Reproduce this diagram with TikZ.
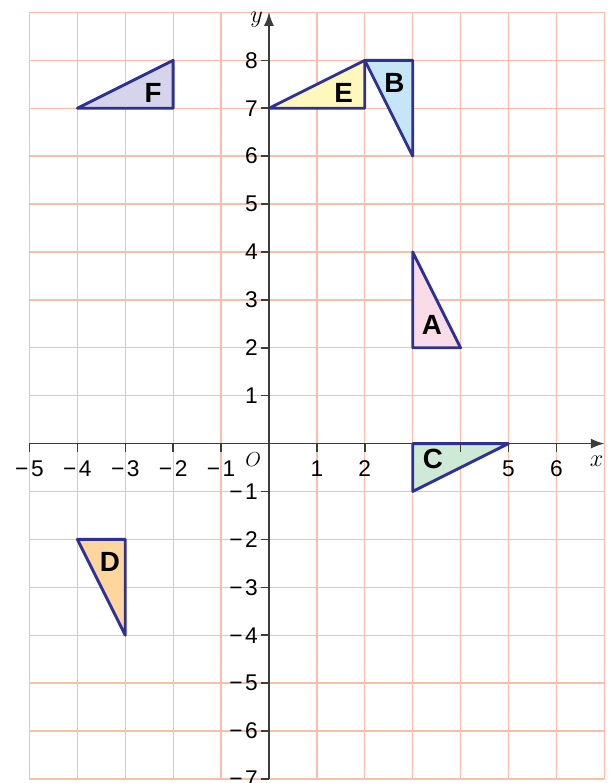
\documentclass[tikz,border=0pt]{standalone}
\usepackage{fontspec}
\setsansfont{Liberation Sans}
\usetikzlibrary{arrows.meta}
\definecolor{gridpink}{RGB}{249,189,168}
\definecolor{triblue}{RGB}{46,49,146}
\definecolor{axgray}{RGB}{60,60,60}
\definecolor{fillF}{RGB}{214,212,234}
\definecolor{fillE}{RGB}{255,248,188}
\definecolor{fillB}{RGB}{196,230,247}
\definecolor{fillA}{RGB}{250,220,232}
\definecolor{fillC}{RGB}{206,233,214}
\definecolor{fillD}{RGB}{253,214,158}
\newcommand{\mn}{−\kern1.5pt}

\begin{document}
\begin{tikzpicture}[x=1cm,y=1cm,font=\sffamily\fontsize{13.5}{15}\selectfont,
   >={Latex[length=8pt,width=6pt]},
   ax/.style={axgray,line width=0.9pt},
   tri/.style={draw=triblue,line width=1.7pt,line join=round},
   lab/.style={font=\sffamily\bfseries\fontsize{16.5}{18}\selectfont},
   num/.style={inner sep=1pt}]
  \useasboundingbox (-5.615,-7.085) rectangle (7.23,9.26);
  % grid
  \draw[gridpink,line width=0.8pt] (-5,-7) grid (7,9);
  % axes
  \coordinate (xs) at (-5,0); \coordinate (xe) at (7,0);
  \coordinate (ys) at (0,-7); \coordinate (ye) at (0,9);
  \draw[ax,->] (xs)--(xe);
  \draw[ax,->] (ys)--(ye);
  % triangles
  \draw[tri,fill=fillF] (-4,7)--(-2,8)--(-2,7)--cycle;
  \draw[tri,fill=fillE] (0,7)--(2,8)--(2,7)--cycle;
  \draw[tri,fill=fillB] (2,8)--(3,8)--(3,6)--cycle;
  \draw[tri,fill=fillA] (3,4)--(3,2)--(4,2)--cycle;
  \draw[tri,fill=fillC] (3,0)--(5,0)--(3,-1)--cycle;
  \draw[tri,fill=fillD] (-4,-2)--(-3,-2)--(-3,-4)--cycle;
  \node[lab] (labF) at (-2.42,7.33){F};
  \node[lab] (labE) at (1.56,7.31){E};
  \node[lab] (labB) at (2.62,7.53){B};
  \node[lab] (labA) at (3.40,2.48){A};
  \node[lab] (labC) at (3.42,-0.33){C};
  \node[lab] (labD) at (-3.32,-2.48){D};
  % ticks and numbers
  \foreach \x in {-5,-4,-3,-2,-1,1,2,4,5,6}{\draw[ax] (\x,0)--(\x,-0.17);}
  \foreach \y in {-7,-6,-5,-4,-3,-2,-1,1,2,3,4,5,6,7,8}{\draw[ax] (0,\y)--(-0.17,\y);}
  \foreach \x/\t in {-5/\mn5,-4/\mn4,-3/\mn3,-2/\mn2,-1/\mn1,1/1,2/2,5/5,6/6}
    \node[num] (xl\x) at (\x,-0.52){\t};
  \foreach \y/\t in {-7/\mn7,-6/\mn6,-5/\mn5,-4/\mn4,-3/\mn3,-2/\mn2,-1/\mn1,1/1,2/2,3/3,4/4,5/5,6/6,7/7,8/8}
    \node[num,anchor=east] (yl\y) at (-0.19,\y){\t};
  \node (orig) at (-0.33,-0.33){\fontsize{13}{15}\selectfont$O$};
  \node (xname) at (6.84,-0.36){\fontsize{14}{16}\selectfont$x$};
  \node (yname) at (-0.26,8.86){\fontsize{14}{16}\selectfont$y$};
\end{tikzpicture}
\end{document}
